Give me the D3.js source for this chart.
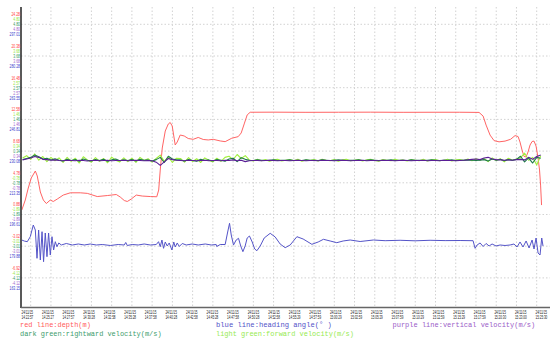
<!DOCTYPE html>
<html><head><meta charset="utf-8">
<script src="https://cdn.jsdelivr.net/npm/d3@7"></script>
<style>body{margin:0;background:#fff}svg{display:block}</style>
</head><body><svg id="c" width="550" height="344"></svg>
<script>
// ---------- tick labels ----------
const dateLabel = "24/11/15";
const timeLabels = ["14:22:57","14:25:27","14:27:57","14:30:28","14:32:58","14:35:28","14:37:58","14:40:28","14:42:58","14:45:28","14:47:58","14:50:28","14:52:58","14:55:29","14:57:59","15:00:29","15:02:59","15:05:29","15:07:59","15:10:29","15:12:59","15:15:29","15:17:59","15:20:30","15:23:00","15:25:30"];
const depthLabels   = ["24.28","20.38","16.48","12.58","8.68","4.78","0.88","-3.02","-6.92"];
const fwdLabels     = ["4.80","3.68","2.57","1.46","0.34","-0.78","-1.89","-3.01","-4.12"];
const rightLabels   = ["4.80","3.68","2.57","1.46","0.34","-0.78","-1.89","-3.01","-4.12"];
const vertLabels    = ["4.80","3.68","2.57","1.46","0.34","-0.78","-1.89","-3.01","-4.12"];
const headingLabels = ["297.01","280.28","263.55","246.81","230.08","213.35","196.61","179.88","163.15"];

// ---------- series (time in minutes after 14:22:57) ----------
const depthT = [-1.10,-0.67,-0.30,0.07,0.57,0.81,1.19,1.56,1.93,2.42,2.79,3.28,4.02,4.89,6.12,6.99,8.22,9.46,10.57,11.06,11.56,11.93,12.42,13.04,13.78,14.77,15.57,15.81,16.0,16.25,16.62,16.99,17.23,17.48,17.85,18.10,18.47,18.96,19.46,20.07,20.69,21.31,21.93,22.54,23.41,24.02,24.83,25.63,26.0,26.37,26.74,27.11,30,34,38,42,46,50,53,55.38,55.88,56.25,56.74,57.23,57.85,58.59,59.27,59.83,60.20,60.44,60.69,60.94,61.19,61.43,61.68,61.93,62.17,62.42,62.67,62.85,62.98,63.10];
const depthV = [1.43,2.66,4.14,5.37,6.23,5.62,3.65,2.66,2.23,2.66,2.48,2.78,3.27,3.55,3.55,3.48,3.09,3.21,3.34,3.03,2.60,2.48,2.78,3.27,3.15,3.09,3.06,3.89,6.35,9.06,11.15,12.01,12.20,11.77,9.43,9.80,10.66,10.54,10.23,10.13,10.36,10.11,10.05,10.13,9.93,9.84,10.26,10.46,10.91,12.02,13.13,13.46,13.47,13.45,13.46,13.47,13.45,13.46,13.46,13.44,12.99,11.88,10.65,9.97,9.82,9.91,10.13,10.59,10.47,9.79,8.81,8.02,7.96,8.57,9.43,9.86,9.91,9.30,7.82,6.35,4.50,2.04];

const headT = [-1.10,-0.79,-0.42,-0.05,0.32,0.57,0.78,0.98,1.19,1.40,1.59,1.80,2.01,2.21,2.42,2.63,2.83,3.04,3.25,3.47,3.78,4.40,5.14,5.88,6.62,7.36,8.10,8.84,9.83,10.81,11.56,11.74,11.93,12.54,13.28,14.02,14.77,15.51,15.79,16.0,16.21,16.41,16.62,16.86,17.11,17.44,17.67,17.85,18.10,18.35,18.72,19.21,19.95,20.69,21.56,22.30,22.91,22.97,23.41,24.02,24.33,24.56,24.77,25.05,25.38,25.67,25.94,26.21,26.49,26.74,27.02,27.36,27.67,27.94,28.35,28.84,29.58,30.20,30.81,31.43,32.05,32.88,33.65,34.73,35.51,36.16,36.99,37.81,38.59,39.46,40.69,42.33,43.78,45.63,47.48,49.33,51.19,53.04,54.64,54.89,55.14,55.51,55.88,56.25,56.62,56.99,57.48,57.98,58.59,59.21,59.70,60.07,60.44,60.81,61.19,61.56,61.93,62.17,62.42,62.67,62.91,63.12,63.28];
const headV = [183.15,182.6,182.26,184.90,191.07,188.43,173.49,188.43,172.6,187.54,171.7,186.85,174.34,186.85,175.23,184.90,177.88,182.26,179.62,181.58,180.52,181.31,180.52,181.05,180.52,181.05,180.52,180.78,180.26,180.78,180.52,181.84,180.26,180.78,180.52,181.05,180.52,180.78,182.26,179.62,183.15,178.77,182.1,180.0,181.58,177.88,182.1,179.46,181.58,179.73,181.31,180.52,181.05,180.52,181.05,180.52,180.78,179.73,180.78,180.78,187.37,191.97,185.79,180.52,183.15,184.05,180.0,177.0,180.0,184.21,185.26,182.1,178.41,177.5,180.0,184.21,186.69,184.74,181.05,179.09,180.52,184.90,183.68,180.88,182.1,183.52,182.63,181.74,182.63,183.15,182.36,183.15,182.79,183.0,182.73,183.0,182.84,182.89,182.79,178.77,180.52,181.58,179.73,181.31,180.0,181.05,180.0,180.52,180.26,180.52,181.05,179.46,182.1,179.46,182.63,178.94,183.15,178.41,184.21,176.30,175.23,184.21,180.0];

// velocities sampled every 0.5 min starting at -1 min
const velStart = -1, velStep = 0.5;
const rightVel = [0.04,0.08,0.12,0.20,0.14,0.06,0.09,0.03,0.07,
 0.02,-0.01,0.05,0.01,0.04,-0.02,0.06,0.02,-0.01,0.04,0.01,0.05,-0.02,0.03,0.06,0.00,0.03,0.01,0.04,-0.01,0.05,0.02,0.03,-0.01,0.04,
 0.12,-0.06,0.16,0.06,0.03,
 0.03,-0.01,0.04,0.01,-0.02,0.05,0.01,0.03,-0.01,0.04,0.02,-0.02,0.06,0.09,-0.03,0.11,0.05,
 0.02,0.01,0.03,0.02,0.01,0.02,0.03,0.01,0.02,0.02,0.03,0.01,0.02,0.01,0.03,0.02,0.02,0.01,0.03,0.02,0.01,0.02,0.03,0.02,0.01,0.02,0.02,0.03,0.01,0.02,0.03,0.02,0.01,0.02,0.02,0.03,0.01,0.02,0.02,0.01,0.03,0.02,0.02,0.01,0.02,0.03,0.02,0.01,0.02,0.02,0.03,0.01,0.02,0.02,0.03,0.02,0.01,0.02,
 0.04,-0.01,0.06,0.02,0.05,0.00,0.04,0.02,
 0.05,0.16,-0.04,0.10,-0.08,0.12,0.09];
const fwdVel = [0.10,0.18,0.05,0.24,0.02,0.15,-0.03,0.12,0.00,
 0.10,-0.06,0.12,-0.02,0.09,-0.08,0.14,0.03,-0.05,0.11,-0.02,0.08,-0.07,0.13,0.02,-0.04,0.10,-0.03,0.09,-0.06,0.12,0.01,0.07,-0.05,0.08,
 0.20,-0.02,0.14,-0.06,0.09,
 0.08,-0.05,0.11,-0.03,0.07,-0.06,0.10,0.02,-0.04,0.09,-0.02,0.12,0.16,0.04,0.22,0.08,0.18,
 0.03,-0.01,0.05,0.00,0.04,-0.02,0.03,0.05,-0.01,0.02,0.04,0.00,0.05,-0.02,0.03,0.01,0.04,-0.01,0.05,0.02,0.00,0.04,-0.02,0.03,0.05,0.00,0.02,0.04,-0.01,0.03,0.05,0.01,-0.02,0.04,0.02,0.00,0.05,0.01,0.03,-0.01,0.04,0.02,0.00,0.05,-0.01,0.03,0.04,0.00,0.02,0.05,-0.01,0.03,0.04,0.01,0.06,0.00,0.07,0.02,
 0.08,-0.03,0.10,0.01,0.07,-0.04,0.09,0.02,
 0.06,0.10,0.27,0.02,0.12,-0.15,0.18];
const vertVel = [0.03,0.06,0.10,0.15,0.12,0.05,0.04,0.02,0.03,
 0.01,0.00,0.02,0.01,0.00,0.02,0.01,-0.01,0.01,0.02,0.00,0.01,0.02,0.00,0.01,0.01,0.02,0.00,0.01,0.02,0.01,0.00,0.01,0.00,-0.05,
 -0.16,-0.04,0.08,0.04,0.02,
 0.01,0.00,0.02,0.01,0.00,0.01,0.02,0.00,0.01,0.01,0.00,0.02,0.01,0.03,0.00,0.02,-0.03,
 0.00,0.01,0.01,0.00,0.01,0.02,0.01,0.00,0.01,0.01,0.00,0.01,0.02,0.01,0.00,0.01,0.01,0.00,0.02,0.01,0.01,0.00,0.01,0.02,0.01,0.00,0.01,0.01,0.02,0.00,0.01,0.01,0.00,0.02,0.01,0.01,0.00,0.01,0.02,0.01,0.00,0.01,0.01,0.02,0.00,0.01,0.01,0.00,0.02,0.01,0.01,0.00,0.01,0.02,0.03,0.05,0.06,0.04,
 0.10,0.12,0.06,0.04,0.03,0.02,0.03,0.02,
 0.04,0.05,0.03,0.12,0.05,0.15,0.20];

// legend
const legendItems = [
  {text:"red line:depth(m)", color:"#ff5a5a", col:0, row:0, w:71},
  {text:"dark green:rightward velocity(m/s)", color:"#3c9c6c", col:0, row:1, w:142},
  {text:"blue line:heading angle(\u00B0 )", color:"#5252c8", col:1, row:0, w:116},
  {text:"light green:forward velocity(m/s)", color:"#96ea50", col:1, row:1, w:138},
  {text:"purple line:vertical velocity(m/s)", color:"#9a5cc8", col:2, row:0, w:143}
];

// ---------- layout ----------
const svg = d3.select("#c");
const L = 21, R = 550, T = 7, B = 307;
const gridTop = 24.3, gridBot = 277.9;

const x = d3.scaleLinear().domain([0, 62.5]).range([30.7, 536.7]);
const labelX = d3.scaleLinear().domain([0, 25]).range([21.5, 535.5]);
const row = d3.scaleLinear().domain([0, 8]).range([gridTop, gridBot]);
const yDepth = d3.scaleLinear().domain([+depthLabels[8], +depthLabels[0]]).range([gridBot, gridTop]);
const yVel = d3.scaleLinear().domain([+fwdLabels[8], +fwdLabels[0]]).range([gridBot, gridTop]);
const yHead = d3.scaleLinear().domain([+headingLabels[8], +headingLabels[0]]).range([gridBot, gridTop]);

// grid
const g = svg.append("g");
d3.range(9).forEach(k => {
  g.append("line").attr("x1", L).attr("x2", R).attr("y1", row(k)).attr("y2", row(k))
   .attr("stroke", "#d2d2d2").attr("stroke-width", 1).attr("stroke-dasharray", "1.5,2");
});
timeLabels.forEach((t, k) => {
  g.append("line").attr("x1", x(k*2.5)).attr("x2", x(k*2.5)).attr("y1", T).attr("y2", B)
   .attr("stroke", "#d2d2d2").attr("stroke-width", 1).attr("stroke-dasharray", "1.5,2");
});

// clip
svg.append("clipPath").attr("id","clip").append("rect")
  .attr("x", L+1).attr("y", T).attr("width", R-L-1).attr("height", B-T);
const plot = svg.append("g").attr("clip-path","url(#clip)");

function drawLine(data, yS, color, w) {
  plot.append("path").datum(data)
    .attr("fill","none").attr("stroke",color).attr("stroke-width",w).attr("stroke-linejoin","round")
    .attr("d", d3.line().x(d => x(d[0])).y(d => yS(d[1])));
}
const velData = arr => arr.map((v,i) => [velStart + i*velStep, v]);

drawLine(d3.zip(depthT, depthV), yDepth, "#ff6464", 1);
drawLine(d3.zip(headT, headV), yHead, "#5454c8", 1);
drawLine(velData(fwdVel), yVel, "#a0f03c", 1.1);
drawLine(velData(rightVel), yVel, "#1f7a4a", 1.1);
drawLine(velData(vertVel), yVel, "#5a1e96", 1.1);

// axes lines
svg.append("line").attr("x1", L).attr("x2", L).attr("y1", T).attr("y2", B+1)
  .attr("stroke", "#222").attr("stroke-width", 1.5);
svg.append("line").attr("x1", L).attr("x2", R).attr("y1", B+0.5).attr("y2", B+0.5)
  .attr("stroke", "#666").attr("stroke-width", 1.5);

// horizontally squeezed text helper (uses transform so the box is measured correctly)
function squeezed(parent, xPos, yPos, str, size, family, color, sx, anchor) {
  return parent.append("text")
    .attr("transform", `translate(${xPos},${yPos}) scale(${sx},1)`)
    .attr("text-anchor", anchor || "start")
    .attr("font-family", family).attr("font-size", size).attr("fill", color)
    .text(str);
}

// y labels (5 stacked per gridline)
const ySets = [
  {labels: depthLabels, color:"#ff3c3c", off:-10},
  {labels: fwdLabels, color:"#8ee63c", off:-5},
  {labels: rightLabels, color:"#2e9a5e", off:0},
  {labels: vertLabels, color:"#9c64cc", off:5},
  {labels: headingLabels, color:"#3a3acc", off:10}
];
ySets.forEach(s => {
  s.labels.forEach((lab, k) => {
    squeezed(svg, 20, row(k) + s.off + 1.9, lab, 5.4, "Liberation Sans, Arial, sans-serif", s.color, 0.64, "end");
  });
});

// x labels
timeLabels.forEach((t, k) => {
  const xx = labelX(k);
  squeezed(svg, xx, 313.5, dateLabel, 4.6, "Liberation Sans, Arial, sans-serif", "#1a1a1a", 0.66);
  squeezed(svg, xx, 318.6, t, 4.6, "Liberation Sans, Arial, sans-serif", "#1a1a1a", 0.66);
});

// legend (monospace, squeezed to the widths measured on the reference)
const colX = [20, 216, 392.5];
const rowY = [327, 336];
legendItems.forEach(it => {
  const natural = it.text.length * 0.6 * 7.6;
  squeezed(svg, colX[it.col], rowY[it.row], it.text, 7.6, "Liberation Mono, DejaVu Sans Mono, monospace", it.color, it.w / natural);
});
</script>
</body></html>
